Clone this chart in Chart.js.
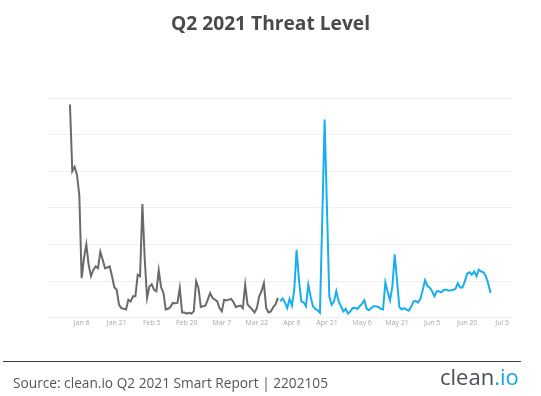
<!DOCTYPE html>
<html>
<head>
<meta charset="utf-8">
<script src="https://cdn.jsdelivr.net/npm/chart.js@4/dist/chart.umd.min.js"></script>
<style>
    html, body { margin: 0; padding: 0; background: #fff; }
    body { width: 541px; height: 396px; position: relative; overflow: hidden; font-family: 'Open Sans', sans-serif; }
    #title { position: absolute; left: 0; width: 541px; top: 9px; text-align: center; font-size: 19.2px; font-weight: 700; color: #4a4a4a; }
    #chart-wrap { position: absolute; left: 0; top: 0; width: 541px; height: 396px; }
    #rule { position: absolute; left: 3px; top: 361px; width: 518px; height: 1px; background: #3a3f45; }
    #source { position: absolute; left: 13px; top: 373px; font-size: 13.7px; color: #555; }
    #logo { position: absolute; left: 440px; top: 361px; font-size: 22px; color: #4a4f55; }
    #logo span { color: #1aa3e0; }
</style>
</head>
<body>
<div id="chart-wrap"><canvas id="threatChart"></canvas></div>
<div id="title">Q2 2021 Threat Level</div>
<div id="rule"></div>
<div id="source">Source: clean.io Q2 2021 Smart Report | 2202105</div>
<div id="logo">clean<span>.io</span></div>
<script>
// day index 0 = Jan 1 2021
const tickDays = [5, 20, 35, 50, 65, 80, 95, 110, 125, 140, 155, 170, 185];
const tickLabels = ['Jan 6', 'Jan 21', 'Feb 5', 'Feb 20', 'Mar 7', 'Mar 22', 'Apr 6', 'Apr 21', 'May 6', 'May 21', 'Jun 5', 'Jun 20', 'Jul 5'];

// Q1: Jan 1 - Mar 31
const q1Start = 0;
const q1Values = [
    58.2, 40, 41.2, 39, 33.5, 10.8, 16.3, 20, 14.4, 11.3,
    13, 14, 13.5, 18, 15.8, 13.5, 13.7, 14, 11.3, 8.3,
    7.6, 3.5, 2.6, 2.4, 2.2, 4.9, 4.4, 5.8, 5.8, 11.7,
    11.3, 31, 16, 5.4, 8.5, 9.1, 7.6, 7.2, 12.9, 8.3,
    6.8, 2.2, 2.4, 2.9, 4, 3.9, 4, 8.1, 1.4, 1.4,
    1.1, 1.3, 1.1, 1.7, 9.9, 8.1, 2.9, 3.1, 3.3, 4.9,
    6.7, 5.4, 4.9, 4.5, 2.6, 1.7, 4.9, 4.7, 4.9, 5.1,
    4.2, 2.9, 3.1, 3.3, 2.6, 9, 3.6, 2.9, 2.2, 1.4,
    2.6, 5.8, 7.2, 9.4, 2.6, 1.4, 1.7, 2.9, 3.6, 5.4
];

// Q2: Apr 1 - Jun 30
const q2Start = 90;
const q2Values = [
    4.4, 5.2, 4.2, 2.6, 5.1, 3.3, 7.6, 18.5, 10.4, 4.4,
    4.2, 3.1, 9, 5.8, 3.1, 2.4, 2, 1.3, 27, 54.1,
    30, 5.8, 3.5, 4.4, 7.2, 4.4, 3.1, 1.7, 2.4, 1.1,
    1.7, 2.6, 2.6, 2.4, 3.1, 3.8, 4.7, 2.4, 2, 2.6,
    3.1, 3.1, 2.9, 2.4, 2.2, 9.6, 7, 4.7, 8.5, 17.3,
    10, 2.9, 2.2, 2.6, 2.2, 1.9, 2.9, 4.4, 4.6, 4.1,
    5.1, 7.6, 10.2, 8.7, 8.2, 7.2, 5.8, 7.2, 7.2, 6.9,
    7.6, 7.6, 7.4, 7.4, 7.6, 7.8, 9.4, 8.2, 8.2, 9.9,
    12, 12.4, 11.7, 12.6, 11.3, 13.1, 12.6, 12.4, 11.3, 9.4,
    6.7
];

const toPoints = (start, vals) => vals.map((v, i) => ({ x: start + i, y: v }));

const ctx = document.getElementById('threatChart').getContext('2d');
new Chart(ctx, {
    type: 'line',
    data: {
        datasets: [
            {
                label: 'Q1',
                data: toPoints(q1Start, q1Values),
                borderColor: '#6a6a6a',
                borderWidth: 2,
                pointRadius: 0,
                tension: 0
            },
            {
                label: 'Q2',
                data: toPoints(q2Start, q2Values),
                borderColor: '#1aaeef',
                borderWidth: 2,
                pointRadius: 0,
                tension: 0
            }
        ]
    },
    options: {
        responsive: true,
        maintainAspectRatio: false,
        animation: false,
        layout: { padding: { left: 48, right: 29, top: 98, bottom: 68 } },
        plugins: { legend: { display: false }, tooltip: { enabled: false } },
        scales: {
            x: {
                type: 'linear',
                min: -9.4,
                max: 189.2,
                afterBuildTicks: axis => { axis.ticks = tickDays.map(v => ({ value: v })); },
                ticks: {
                    callback: v => tickLabels[tickDays.indexOf(v)],
                    font: { family: 'Open Sans', size: 7 },
                    color: '#a8a8a8',
                    padding: 1,
                    maxRotation: 0,
                    autoSkip: false
                },
                grid: { display: false, drawTicks: false },
                border: { display: false }
            },
            y: {
                min: 0,
                max: 60,
                ticks: { display: false, stepSize: 10 },
                grid: { color: '#efefef', lineWidth: 1, drawTicks: false },
                border: { display: false }
            }
        }
    }
});
</script>
</body>
</html>
